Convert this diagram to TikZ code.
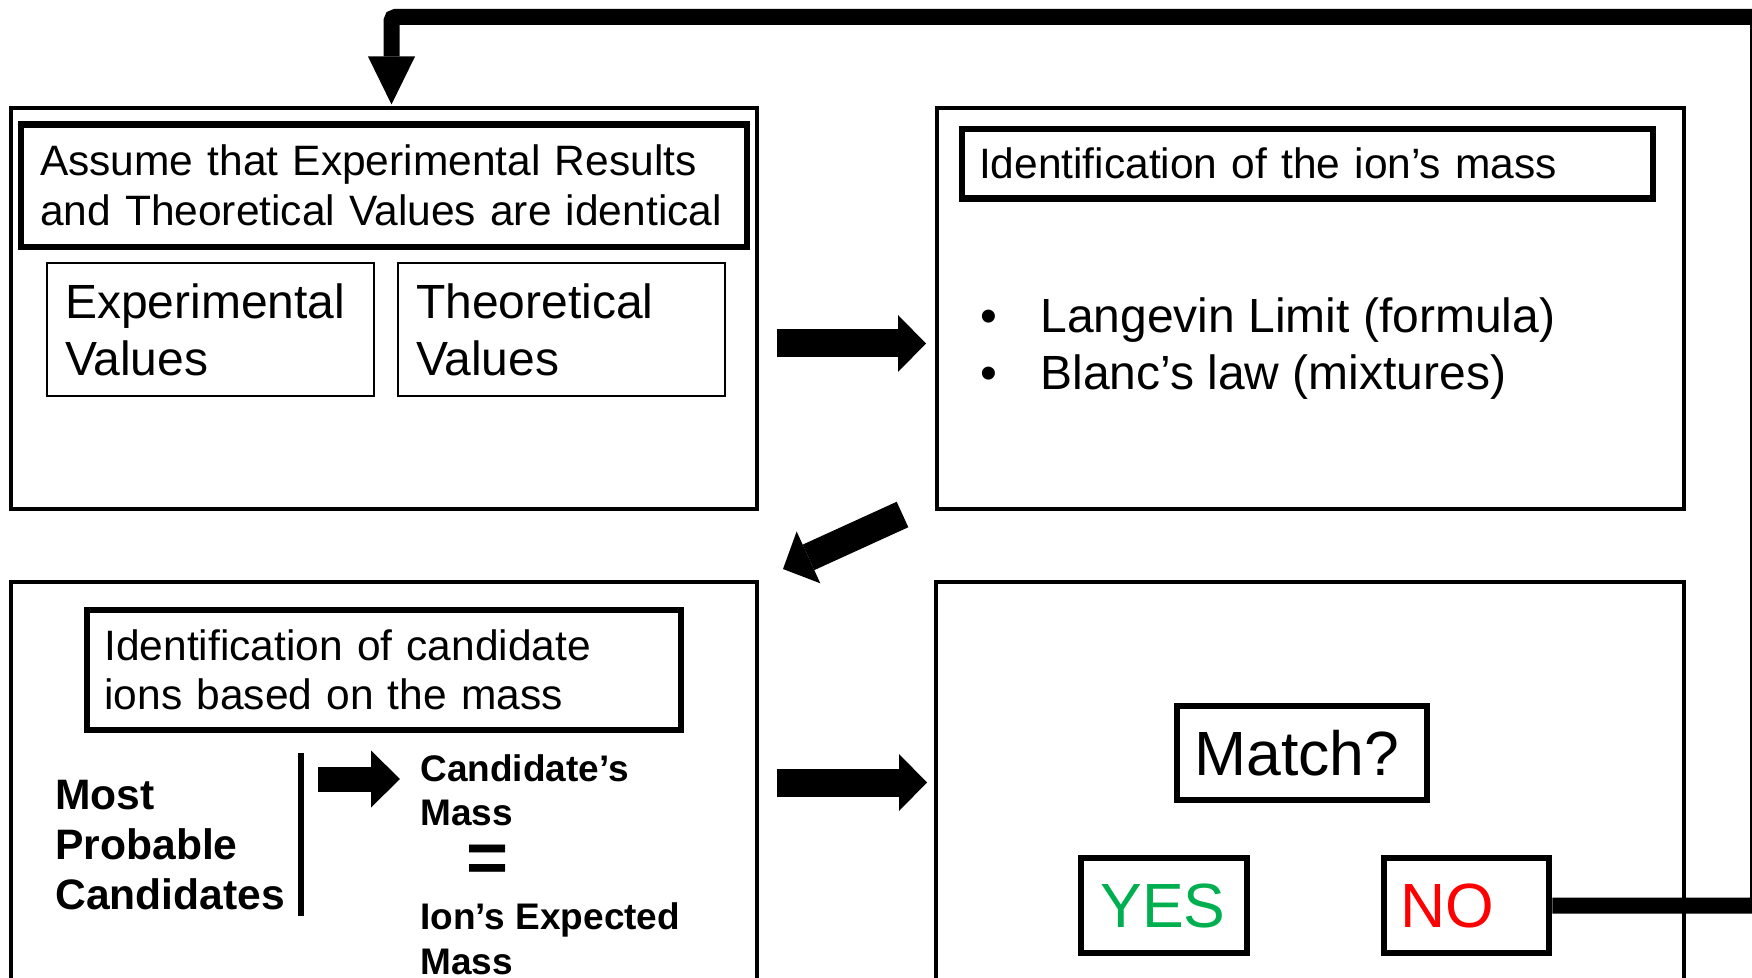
\documentclass[tikz,border=0pt]{standalone}
\usepackage{fontspec}
\setmainfont{Liberation Sans}
\usetikzlibrary{arrows.meta,calc}
\definecolor{yesgreen}{RGB}{0,176,80}
\definecolor{nored}{RGB}{255,0,0}
\tikzset{
  outerbox/.style={draw, line width=2pt, inner sep=0pt},
  headbox/.style={draw, line width=3.25pt, inner ysep=0pt, align=left, font=\fontsize{21.25}{25}\selectfont},
  valbox/.style={draw, line width=1pt, inner ysep=0pt, inner xsep=9pt, align=left, text width=145.5pt, minimum width=163.5pt, minimum height=66.5pt, font=\fontsize{24}{28.5}\selectfont},
  answerbox/.style={draw, line width=3.25pt, inner ysep=0pt, align=left, minimum height=47.5pt, font=\fontsize{31.25}{36}\selectfont},
  plaintext/.style={inner sep=0pt, align=left, anchor=north west},
  blockarrow/.style={line width=14pt, -{Triangle[length=14pt,width=28.5pt,line width=0pt]}},
  smallarrow/.style={line width=12.5pt, -{Triangle[length=14.5pt,width=28.5pt,line width=0pt]}},
  loopline/.style={line width=8pt, rounded corners=2pt, -{Triangle[length=24pt,width=23.5pt,line width=0pt]}},
}
\begin{document}
\begin{tikzpicture}[x=0.5pt,y=-0.5pt]
\useasboundingbox (0,0) rectangle (1752,978);
\clip (0,0) rectangle (1752,978);
\fill[white] (0,0) rectangle (1752,978);

% outer panels
\node[outerbox, minimum width=373pt, minimum height=200.25pt] (A) at (384,308.75) {};
\node[outerbox, minimum width=373.25pt, minimum height=200.25pt] (B) at (1310.25,308.75) {};
\node[outerbox, minimum width=373pt, minimum height=259pt] (C) at (384,841) {};
\node[outerbox, minimum width=374pt, minimum height=259pt] (D) at (1310,841) {};

% panel A
\node[headbox, inner xsep=9.5pt, text width=344pt, minimum width=363pt, minimum height=61.25pt] (A1) at (384,185.75)
  {Assume that Experimental Results\\and Theoretical Values are identical};
\node[valbox] (Aexp) at (210.5,329.5) {Experimental\\Values};
\node[valbox] (Ath) at (561.5,329.5) {Theoretical\\Values};

% panel B
\node[headbox, inner xsep=8.5pt, text width=328.5pt, minimum width=345.5pt, minimum height=34.75pt] (B1) at (1307.5,163.75)
  {Identification of the ion’s mass};
\node[plaintext, font=\fontsize{24}{28.5}\selectfont] (Blist) at (980,297)
  {\makebox[30pt][l]{•}Langevin Limit (formula)\\\makebox[30pt][l]{•}Blanc’s law (mixtures)};

% panel C
\node[headbox, inner xsep=8.7pt, text width=279.6pt, minimum width=297pt, minimum height=60pt, font=\fontsize{21.25}{24.5}\selectfont] (C1) at (384,670)
  {Identification of candidate\\ions based on the mass};
\node[plaintext, font=\bfseries\fontsize{21.3}{25}\selectfont] (Cmost) at (55,780) {Most\\Probable\\Candidates};
\draw[line width=3pt] (301,753) coordinate (barT) -- (301,916) coordinate (barB);
\node[plaintext, font=\bfseries\fontsize{18.5}{22}\selectfont] (Ccand) at (420,754) {Candidate’s\\Mass};
\node[inner sep=0pt, anchor=base, font=\bfseries\fontsize{36}{38}\selectfont] (Ceq) at (488,882) {=};
\node[plaintext, font=\bfseries\fontsize{18.5}{22.5}\selectfont] (Cion) at (420,902) {Ion’s Expected\\Mass};
\coordinate (saS) at (318,779);
\coordinate (saE) at (400,779);
\draw[smallarrow] (saS) -- (saE);

% panel D
\node[answerbox, inner xsep=8.7pt, text width=107.6pt, minimum width=125pt, minimum height=47pt] (M) at (1302,753) {Match?};
\node[answerbox, inner xsep=9.75pt, text width=63.5pt, minimum width=83pt, text=yesgreen] (YES) at (1164,905.5) {YES};
\node[answerbox, inner xsep=8.2pt, text width=66.1pt, minimum width=82.5pt, text=nored] (NO) at (1466.5,905.5) {NO};

% flow arrows
\coordinate (y1) at (0,343.5);
\coordinate (y2) at (0,782.5);
\draw[blockarrow, shorten <=9pt, shorten >=4.5pt] (A.east |- y1) -- (B.west |- y1);
\draw[blockarrow, shorten <=9pt, shorten >=3.5pt] (C.east |- y2) -- (D.west |- y2);
\coordinate (dgS) at (902.5,514.5);
\coordinate (dgE) at (783,569);
\draw[blockarrow] (dgS) -- (dgE);

% feedback loop
\coordinate (loopR) at (1758,17);
\draw[loopline, shorten >=1pt] (NO.east) -| (loopR) -| ($(A.north)+(7.5,0)$);
\end{tikzpicture}
\end{document}
